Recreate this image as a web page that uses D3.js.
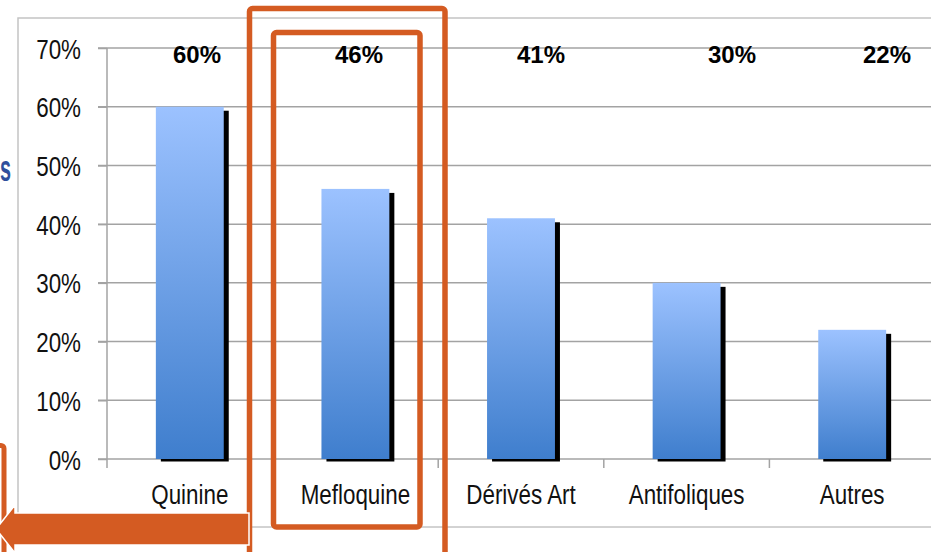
<!DOCTYPE html>
<html>
<head>
<meta charset="utf-8">
<script src="https://cdn.jsdelivr.net/npm/d3@7"></script>
<style>
  body { margin: 0; background: #fff; }
  svg { display: block; }
  .narrow { font-family: "Liberation Sans", Arial, sans-serif; }
</style>
</head>
<body>
<div id="chart-area"></div>
<script>
// data
var categories = ["Quinine", "Mefloquine", "Dérivés Art", "Antifoliques", "Autres"];
var values = [0.60, 0.46, 0.41, 0.30, 0.22];
var valueLabels = ["60%", "46%", "41%", "30%", "22%"];
var yTicks = [0, 0.1, 0.2, 0.3, 0.4, 0.5, 0.6, 0.7];

var W = 931, H = 552;
var plot = { left: 107, right: 935, top: 48, bottom: 459 };
var orange = "#d45b22";
var squeeze = 0.8;   // fake a narrow font

var svg = d3.select("#chart-area")
    .append("svg")
        .attr("width", W)
        .attr("height", H);

var defs = svg.append("defs");
var grad = defs.append("linearGradient")
    .attr("id", "barGrad")
    .attr("x1", 0).attr("y1", 0).attr("x2", 0).attr("y2", 1);
grad.append("stop").attr("offset", "0%").attr("stop-color", "#9cc2ff");
grad.append("stop").attr("offset", "100%").attr("stop-color", "#3f7ecd");

// Scales
var x = d3.scaleBand()
    .domain(categories)
    .range([plot.left, plot.right])
    .paddingInner(0.59)
    .paddingOuter(0.295);
var xEdge = d3.scaleBand()
    .domain(categories)
    .range([plot.left, plot.right]);
var y = d3.scaleLinear()
    .domain([0, 0.7])
    .range([plot.bottom, plot.top]);

// outer chart frame
svg.append("rect")
    .attr("x", 18).attr("y", 18)
    .attr("width", 950).attr("height", 509)
    .attr("fill", "none")
    .attr("stroke", "#c4c4c4")
    .attr("stroke-width", 1.5);

// gridlines
svg.append("g")
    .selectAll("line")
    .data(yTicks)
    .enter().append("line")
        .attr("x1", plot.left - 9)
        .attr("x2", W)
        .attr("y1", function(d){ return y(d); })
        .attr("y2", function(d){ return y(d); })
        .attr("stroke", "#a3a3a3")
        .attr("stroke-width", 1.5);

// Y Axis
var yAxisCall = d3.axisLeft(y)
    .tickValues(yTicks)
    .tickSize(9)
    .tickPadding(17)
    .tickFormat(d3.format(".0%"));
var yAxis = svg.append("g")
    .attr("class", "y axis narrow")
    .attr("transform", "translate(" + plot.left + ",0)")
    .call(yAxisCall);
yAxis.select(".domain")
    .attr("d", "M0," + plot.top + "V" + (plot.bottom + 9));
yAxis.selectAll("path, line").attr("stroke", "#a3a3a3").attr("stroke-width", 1.5);
yAxis.selectAll("text")
    .attr("font-family", null)
    .attr("font-size", 28)
    .attr("fill", "#111")
    .attr("x", -26 / squeeze)
    .attr("dy", "0.36em")
    .attr("transform", "scale(" + squeeze + ",1)");

// X Axis (labels at band centres, ticks at band edges)
var xAxisCall = d3.axisBottom(x).tickSize(0).tickPadding(0);
var xAxis = svg.append("g")
    .attr("class", "x axis narrow")
    .attr("transform", "translate(0," + plot.bottom + ")")
    .call(xAxisCall);
xAxis.select(".domain").remove();
xAxis.selectAll("text")
    .attr("font-family", null)
    .attr("font-size", 28)
    .attr("fill", "#111")
    .attr("y", 45)
    .attr("dy", 0)
    .attr("transform", "scale(" + squeeze + ",1)");

svg.append("g")
    .selectAll("line")
    .data(categories.slice(1))
    .enter().append("line")
        .attr("x1", function(d){ return xEdge(d); })
        .attr("x2", function(d){ return xEdge(d); })
        .attr("y1", plot.bottom)
        .attr("y2", plot.bottom + 9)
        .attr("stroke", "#a3a3a3")
        .attr("stroke-width", 1.5);

// bars with black shadow
var bars = svg.append("g").selectAll("g")
    .data(values)
    .enter().append("g");

bars.append("rect")
    .attr("x", function(d, i){ return x(categories[i]) + 5; })
    .attr("y", function(d){ return y(d) + 4; })
    .attr("width", x.bandwidth())
    .attr("height", function(d){ return y(0) + 2.5 - y(d) - 4; })
    .attr("fill", "#000");

bars.append("rect")
    .attr("x", function(d, i){ return x(categories[i]); })
    .attr("y", function(d){ return y(d); })
    .attr("width", x.bandwidth())
    .attr("height", function(d){ return y(0) - y(d); })
    .attr("fill", "url(#barGrad)");

// value labels along the top
var labelX = [197, 359, 541, 732, 887];
svg.append("g")
    .selectAll("text")
    .data(valueLabels)
    .enter().append("text")
        .attr("x", function(d, i){ return labelX[i]; })
        .attr("y", 63)
        .attr("text-anchor", "middle")
        .attr("font-family", "Liberation Sans, Arial, sans-serif")
        .attr("font-weight", "bold")
        .attr("font-size", 24)
        .attr("fill", "#000")
        .text(function(d){ return d; });

// slide leftovers: blue letter at left edge
svg.append("text")
    .attr("transform", "translate(0,181) scale(0.55,1)")
    .attr("font-family", "Liberation Sans, Arial, sans-serif")
    .attr("font-weight", "bold")
    .attr("font-size", 36)
    .attr("fill", "#2f4f9c")
    .text("s");

// orange highlight boxes
svg.append("rect")
    .attr("x", 249.5).attr("y", 8.5)
    .attr("width", 195.5).attr("height", 560)
    .attr("rx", 3)
    .attr("fill", "none")
    .attr("stroke", orange)
    .attr("stroke-width", 5.5);
svg.append("rect")
    .attr("x", 273.5).attr("y", 32.5)
    .attr("width", 146.5).attr("height", 494.5)
    .attr("rx", 3)
    .attr("fill", "none")
    .attr("stroke", orange)
    .attr("stroke-width", 5.5);
svg.append("rect")
    .attr("x", -200).attr("y", 445.5)
    .attr("width", 204).attr("height", 200)
    .attr("rx", 3)
    .attr("fill", "none")
    .attr("stroke", orange)
    .attr("stroke-width", 5);

// arrow pointing left
svg.append("path")
    .attr("d", "M249,513 L15,513 L15,505 L-4,529 L15,553 L15,545 L249,545 Z")
    .attr("fill", orange)
    .attr("stroke", "#fff")
    .attr("stroke-width", 1.5);
</script>
</body>
</html>
